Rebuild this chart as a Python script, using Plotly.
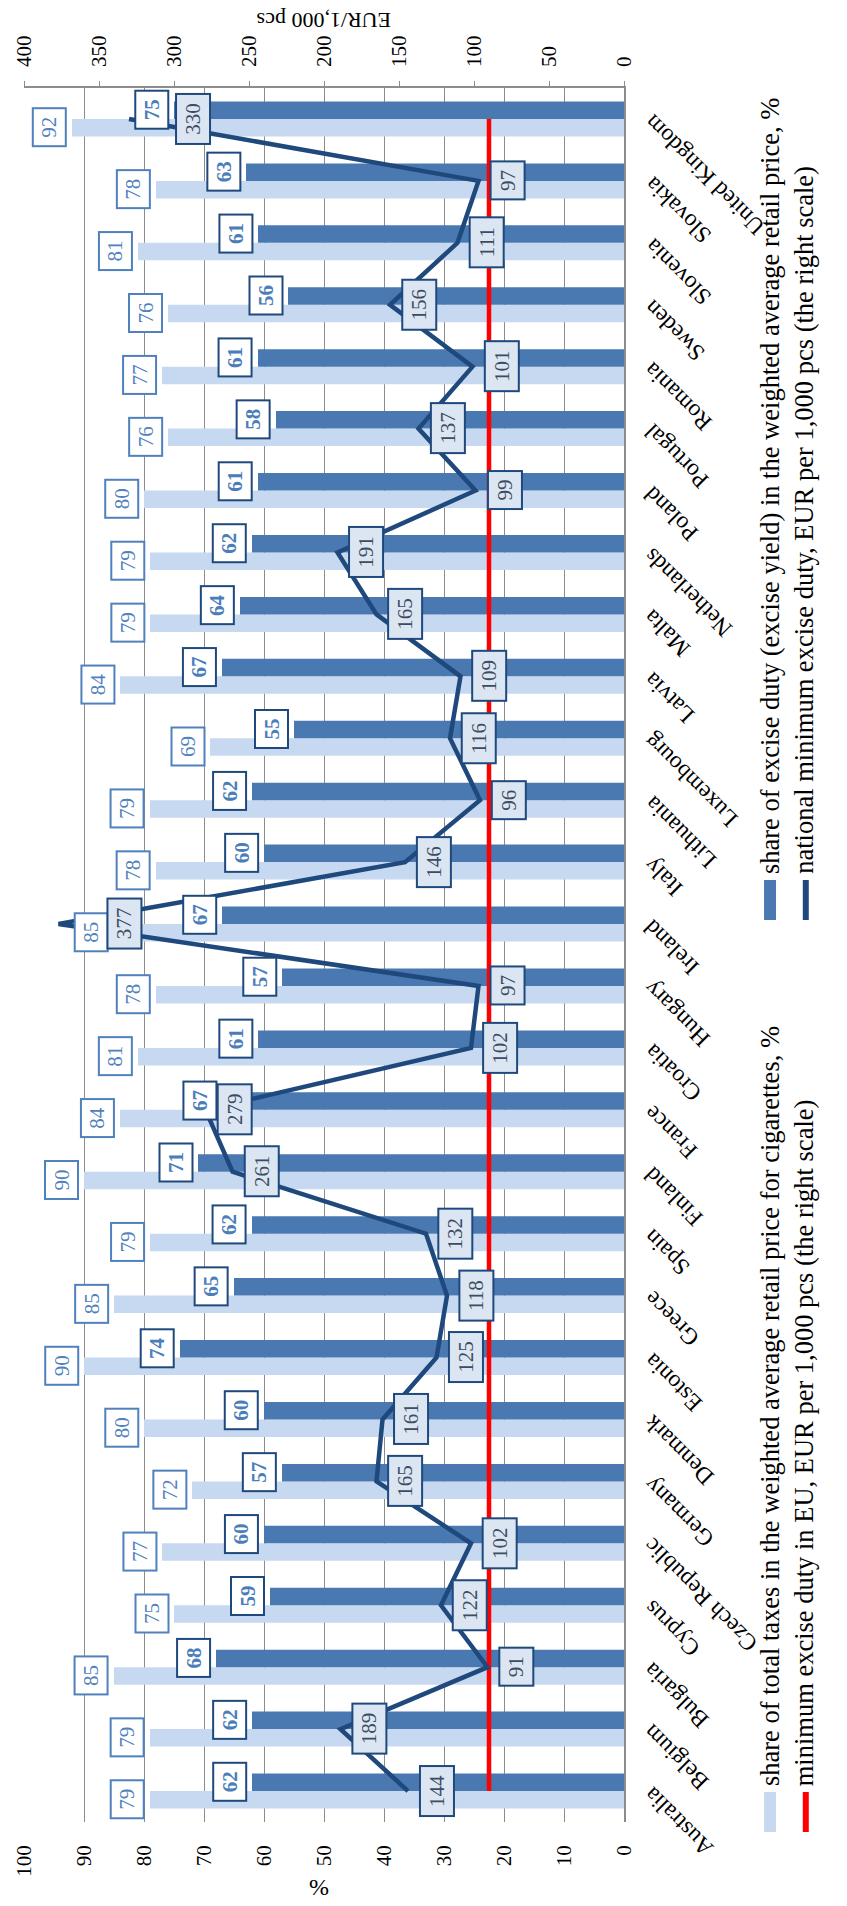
import plotly.graph_objects as go

# ---- data -------------------------------------------------------------
countries = ["Australia", "Belgium", "Bulgaria", "Cyprus", "Czech Republic", "Germany",
             "Denmark", "Estonia", "Greece", "Spain", "Finland", "France", "Croatia",
             "Hungary", "Ireland", "Italy", "Lithuania", "Luxembourg", "Latvia", "Malta",
             "Netherlands", "Poland", "Portugal", "Romania", "Sweden", "Slovenia",
             "Slovakia", "United Kingdom"]

total_tax_share = [79, 79, 85, 75, 77, 72, 80, 90, 85, 79, 90, 84, 81, 78, 85, 78, 79, 69,
                   84, 79, 79, 80, 76, 77, 76, 81, 78, 92]

excise_share = [62, 62, 68, 59, 60, 57, 60, 74, 65, 62, 71, 67, 61, 57, 67, 60, 62, 55,
                67, 64, 62, 61, 58, 61, 56, 61, 63, 75]

national_min_excise = [144, 189, 91, 122, 102, 165, 161, 125, 118, 132, 261, 279, 102, 97,
                       377, 146, 96, 116, 109, 165, 191, 99, 137, 101, 156, 111, 97, 330]

eu_min_excise = [90] * len(countries)

pct_ticks = list(range(0, 101, 10))
eur_ticks = list(range(0, 401, 50))

legend_labels = [
    "share of total taxes in the weighted average retail price for cigarettes, %",
    "share of excise duty (excise yield) in the weighted average retail price, %",
    "minimum excise duty in EU, EUR per 1,000 pcs (the right scale)",
    "national minimum excise duty, EUR per 1,000 pcs (the right scale)",
]

# ---- styling ------------------------------------------------------------
FONT = "Liberation Serif"
LIGHT = "#c6d9f1"
DARK = "#4a78b1"
NAVY = "#1f497d"
RED = "#ff0000"
GRID = "#8c8c8c"

W, H = 847, 1906
L, R, T, B = 20, 624, 88, 1822          # plot area in pixels
PW, PH = R - L, B - T

def px(x):
    return (x - L) / PW

def py(y):
    return (B - y) / PH

BARGAP = 0.435
bar_w = (1 - BARGAP) / 2
light_off, dark_off = -bar_w / 2, bar_w / 2

# extra push for line labels that sit far from their point
line_label_nudge = {"Ireland": 37, "United Kingdom": 35}

def box_len(v):
    # length of a value box along its text direction
    return 32 if len(str(v)) < 3 else 44

fig = go.Figure()

fig.add_trace(go.Bar(x=total_tax_share, y=countries, orientation="h",
                     marker=dict(color=LIGHT, line=dict(width=0)),
                     name=legend_labels[0], showlegend=False))
fig.add_trace(go.Bar(x=excise_share, y=countries, orientation="h",
                     marker=dict(color=DARK, line=dict(width=0)),
                     name=legend_labels[1], showlegend=False))
fig.add_trace(go.Scatter(x=eu_min_excise, y=countries, xaxis="x2", yaxis="y",
                         mode="lines", line=dict(color=RED, width=4.5),
                         name=legend_labels[2], showlegend=False))
fig.add_trace(go.Scatter(x=national_min_excise, y=countries, xaxis="x2", yaxis="y",
                         mode="lines", line=dict(color=NAVY, width=4.5),
                         name=legend_labels[3], showlegend=False))

ann = []
for i, c in enumerate(countries):
    # light bar value
    v = total_tax_share[i]
    ann.append(dict(x=v, y=i + light_off, xref="x", yref="y",
                    text=str(v), textangle=-90, showarrow=False,
                    width=box_len(v), height=27, align="center", valign="middle",
                    xanchor="right", yanchor="middle", xshift=-5,
                    bgcolor="white", bordercolor="#4f81bd", borderwidth=2, borderpad=2,
                    font=dict(family=FONT, size=21, color="#4f81bd")))
    # dark bar value
    v = excise_share[i]
    ann.append(dict(x=v, y=i + dark_off, xref="x", yref="y",
                    text=f"<b>{v}</b>", textangle=-90, showarrow=False,
                    width=box_len(v), height=27, align="center", valign="middle",
                    xanchor="right", yanchor="middle", xshift=-5,
                    bgcolor="white", bordercolor=NAVY, borderwidth=2, borderpad=2,
                    font=dict(family=FONT, size=21, color="#4a7ebb")))
    # national minimum excise value
    v = national_min_excise[i]
    ann.append(dict(x=v, y=i, xref="x2", yref="y",
                    text=str(v), textangle=-90, showarrow=False,
                    width=box_len(v), height=28, align="center", valign="middle",
                    xanchor="left", yanchor="middle",
                    xshift=11 + line_label_nudge.get(c, 0),
                    bgcolor="#dce6f2", bordercolor=NAVY, borderwidth=2, borderpad=2,
                    font=dict(family=FONT, size=21, color="#3b4c63")))
    # category label, slanted
    ann.append(dict(x=1, y=i, xref="paper", yref="y", text=c, textangle=-135,
                    showarrow=False, xanchor="left", yanchor="top",
                    xshift=13, yshift=11, borderpad=0,
                    font=dict(family=FONT, size=23.5, color="black")))

# axis titles
ann.append(dict(x=px(322), y=py(20), xref="paper", yref="paper", text="EUR/1,000 pcs",
                textangle=180, showarrow=False, xanchor="center", yanchor="middle",
                font=dict(family=FONT, size=22, color="black")))
ann.append(dict(x=px(317), y=py(1888), xref="paper", yref="paper", text="%",
                textangle=180, showarrow=False, xanchor="center", yanchor="middle",
                font=dict(family=FONT, size=24, color="black")))

# legend (rotated, two columns)
COL1, COL2 = 771, 805
ROW1_BOTTOM, ROW2_BOTTOM = 1832, 920
KEY = 40
legend_pos = [(COL1, ROW1_BOTTOM), (COL1, ROW2_BOTTOM), (COL2, ROW1_BOTTOM), (COL2, ROW2_BOTTOM)]
for (lx, ly), lab in zip(legend_pos, legend_labels):
    ann.append(dict(x=px(lx), y=py(ly - KEY - 5), xref="paper", yref="paper", text=lab,
                    textangle=-90, showarrow=False, xanchor="center", yanchor="bottom",
                    borderpad=0, font=dict(family=FONT, size=26.5, color="black")))

shapes = [
    dict(type="rect", xref="paper", yref="paper", x0=px(COL1 - 6), x1=px(COL1 + 6),
         y0=py(ROW1_BOTTOM), y1=py(ROW1_BOTTOM - KEY), fillcolor=LIGHT, line=dict(width=0)),
    dict(type="rect", xref="paper", yref="paper", x0=px(COL1 - 6), x1=px(COL1 + 6),
         y0=py(ROW2_BOTTOM), y1=py(ROW2_BOTTOM - KEY), fillcolor=DARK, line=dict(width=0)),
    dict(type="line", xref="paper", yref="paper", x0=px(COL2 + 2), x1=px(COL2 + 2),
         y0=py(ROW1_BOTTOM), y1=py(ROW1_BOTTOM - KEY), line=dict(color=RED, width=6)),
    dict(type="line", xref="paper", yref="paper", x0=px(COL2 + 2), x1=px(COL2 + 2),
         y0=py(ROW2_BOTTOM), y1=py(ROW2_BOTTOM - KEY), line=dict(color=NAVY, width=6)),
]

fig.update_layout(
    width=W, height=H,
    margin=dict(l=L, r=W - R, t=T, b=H - B, pad=0),
    paper_bgcolor="white", plot_bgcolor="white",
    barmode="group", bargap=BARGAP, bargroupgap=0,
    showlegend=False,
    font=dict(family=FONT, color="black"),
    xaxis=dict(range=[100, 0], tickvals=pct_ticks, ticktext=[str(t) for t in pct_ticks],
               showgrid=True, gridcolor=GRID, gridwidth=1.3, zeroline=False,
               showline=False, ticks="", tickangle=-90, ticklabelstandoff=18,
               tickfont=dict(family=FONT, size=21, color="black")),
    xaxis2=dict(range=[400, 0], overlaying="x", side="top", anchor="y",
                tickvals=eur_ticks, ticktext=[str(t) for t in eur_ticks],
                showgrid=False, zeroline=False, showline=True, linecolor=GRID,
                linewidth=1.5, ticks="outside", ticklen=5, tickcolor=GRID,
                tickangle=-90, ticklabelstandoff=10,
                tickfont=dict(family=FONT, size=21, color="black")),
    yaxis=dict(type="category", categoryorder="array", categoryarray=countries,
               range=[-0.5, len(countries) - 0.5], side="right", showline=True,
               linecolor=GRID, linewidth=2, showgrid=False, zeroline=False,
               showticklabels=False, ticks=""),
    annotations=ann,
    shapes=shapes,
)

fig.write_html("out.html")
